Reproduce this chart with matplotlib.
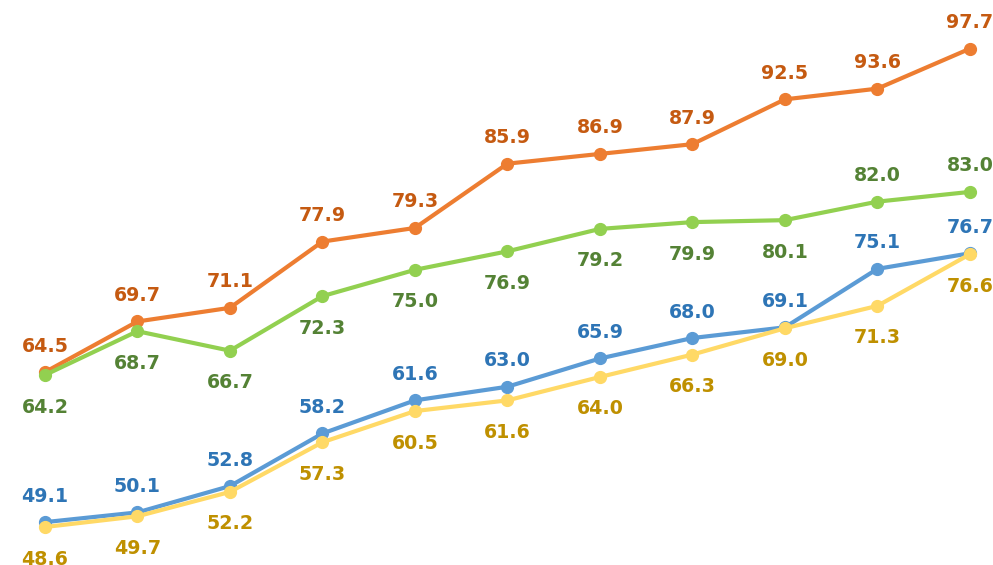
import matplotlib
matplotlib.use("Agg")
import matplotlib.pyplot as plt

x_idx = list(range(11))
orange = [64.5, 69.7, 71.1, 77.9, 79.3, 85.9, 86.9, 87.9, 92.5, 93.6, 97.7]
green = [64.2, 68.7, 66.7, 72.3, 75.0, 76.9, 79.2, 79.9, 80.1, 82.0, 83.0]
blue = [49.1, 50.1, 52.8, 58.2, 61.6, 63.0, 65.9, 68.0, 69.1, 75.1, 76.7]
yellow = [48.6, 49.7, 52.2, 57.3, 60.5, 61.6, 64.0, 66.3, 69.0, 71.3, 76.6]

green_pos = ['below'] * 9 + ['above', 'above']

fig = plt.figure(figsize=(9.93, 5.65), dpi=100)
ax = fig.add_axes([0, 0, 1, 1])
ax.set_xlim(-0.486, 10.25)
ax.set_ylim(44.7, 102.7)
ax.axis('off')

series = [
    (orange, '#ED7D31', '#C55A11', ['above'] * 11),
    (green, '#92D050', '#548235', green_pos),
    (blue, '#5B9BD5', '#2E75B6', ['above'] * 11),
    (yellow, '#FFD966', '#BF9000', ['below'] * 11),
]

for vals, lc, tc, pos in series:
    ax.plot(x_idx, vals, color=lc, lw=3, marker='o', markersize=8.5, solid_capstyle='round')
    for xi, v, p in zip(x_idx, vals, pos):
        off = 26 if p == 'above' else -32
        ax.annotate(f"{v:.1f}", (xi, v), xytext=(0, off), textcoords='offset pixels',
                    ha='center', va='center', color=tc, fontsize=13.7,
                    fontweight='bold', family='DejaVu Sans')

fig.savefig('out.png', dpi=100)
